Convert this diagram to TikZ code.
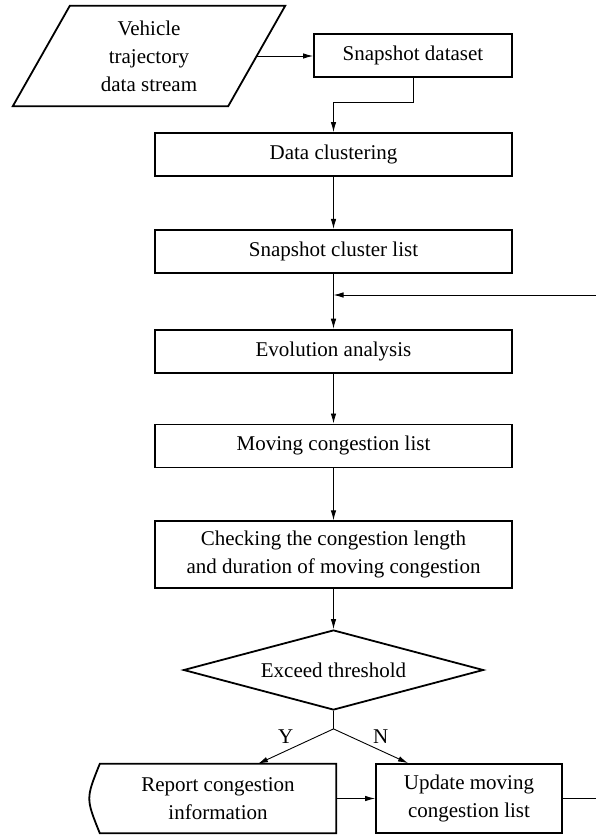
\documentclass[tikz,border=0pt]{standalone}
\usepackage{fontspec}
\setmainfont{Liberation Serif}
\usetikzlibrary{shapes.geometric, arrows.meta, positioning}

\begin{document}
\begin{tikzpicture}[
    x=1pt, y=1pt,
    node distance = 52pt,
    font=\fontsize{21}{28}\selectfont,
    box/.style      = {rectangle, draw, line width=1.8pt, minimum width=357pt,
                       minimum height=43pt, align=center, inner sep=2pt},
    iobox/.style    = {rectangle, minimum width=215pt, minimum height=100pt,
                       align=center, inner sep=0pt},
    decision/.style = {diamond, draw, line width=1.8pt, aspect=3.75,
                       minimum width=300pt, minimum height=80pt, inner sep=0pt},
    endbox/.style   = {rectangle, minimum height=69pt, align=center, inner sep=2pt},
    arrow/.style    = {-{Latex[length=10pt, width=5.5pt]}, line width=0.9pt},
    line/.style     = {line width=0.9pt},
]
\useasboundingbox (0,0) rectangle (596,-835);

\node[iobox]                        (stream)  at (149,-56)    {Vehicle\\trajectory\\data stream};
\node[box, minimum width=198pt]     (snap)    at (413,-55.5)  {Snapshot dataset};
\node[box]                          (cluster) at (333.5,-154.5) {Data clustering};
\node[box, below=of cluster]        (clist)   {Snapshot cluster list};
\node[box, below=55pt of clist]     (evol)    {Evolution analysis};
\node[box, below=50pt of evol]      (moving)  {Moving congestion list};
\node[box, below=of moving, minimum height=67pt] (check)
      {Checking the congestion length\\and duration of moving congestion};
\node[decision, below=40pt of check] (thr)    {Exceed threshold};
\coordinate[below=18pt of thr]      (fork);
\node[endbox, minimum width=236pt]  (report)  at (218,-798.5) {Report congestion\\information};
\node[box, minimum width=186pt, minimum height=69pt] (update) at (469,-798.5)
      {Update moving\\congestion list};
\coordinate (fbin)  at (596,-295);
\coordinate (fbout) at (596,-798.5);

% slanted input box and report box with curved left side
\draw[line width=1.8pt] ([xshift=28.5pt]stream.north west) -- ([xshift=28.5pt]stream.north east)
      -- ([xshift=-28.5pt]stream.south east) -- ([xshift=-28.5pt]stream.south west) -- cycle;
\draw[line width=1.8pt] (report.north east) -- (report.north west)
      .. controls ([xshift=-14pt]report.west) .. (report.south west)
      -- (report.south east) -- cycle;

\draw[arrow] (stream.east) -- (stream.east -| snap.west);
\draw[arrow] (snap.south) -- ++(0,-25) -| (cluster);
\draw[arrow] (cluster) -- (clist);
\draw[arrow] (clist) -- (evol);
\draw[arrow] (fbin) -- (fbin -| clist.south);
\draw[arrow] (evol) -- (moving);
\draw[arrow] (moving) -- (check);
\draw[arrow] (check) -- (thr);
\draw[line]  (thr.south) -- (fork);
\draw[arrow] (fork) -- node[above left=-2pt] {Y} ([xshift=40pt]report.north);
\draw[arrow] (fork) -- node[above right=-2pt] {N} ([xshift=-61pt]update.north);
\draw[arrow] (report) -- (update);
\draw[line]  (update.east) -- (fbout);

\end{tikzpicture}
\end{document}
